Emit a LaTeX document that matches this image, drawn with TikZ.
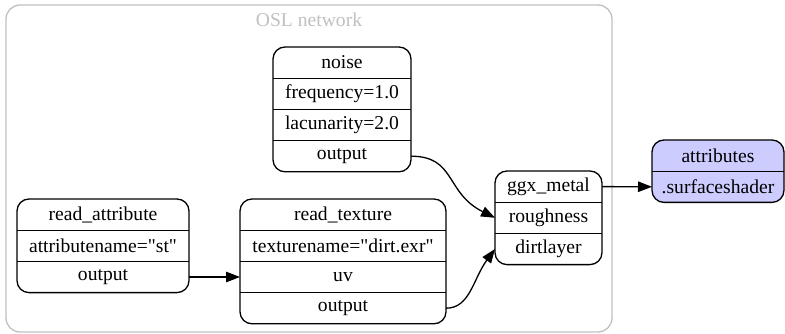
\documentclass[tikz,border=0pt]{standalone}
\usepackage{fontspec}
\setmainfont{Liberation Serif}[Ligatures=TeXOff]
\usetikzlibrary{arrows.meta,positioning,backgrounds}
\definecolor{clustergrey}{HTML}{C0C0C0}
\definecolor{outfill}{HTML}{CCCCFF}
\tikzset{
  port/.style={minimum width=#1, minimum height=31.2pt, inner sep=0pt, outer sep=0pt,
    font=\fontsize{19.6}{22}\selectfont},
  frame/.style={draw, line width=1.3pt, rounded corners=12pt},
  link/.style={line width=1.3pt, -{Triangle[length=14pt,width=10.5pt]}},
}

\begin{document}
\begin{tikzpicture}[x=1pt,y=-1pt]
\useasboundingbox (0,0) rectangle (785,334);

% cluster
\draw[clustergrey, line width=1.3pt, rounded corners=14pt] (6,5) rectangle (612,332);
\node[text=clustergrey, font=\fontsize{19.6}{22}\selectfont, anchor=base] (title) at (309,27) {OSL network};

% noise
\node[port=138pt] (noise) at (342,62.6) {noise};
\node[port=138pt, below=0pt of noise] (noise-freq) {frequency=1.0};
\node[port=138pt, below=0pt of noise-freq] (noise-lac) {lacunarity=2.0};
\node[port=138pt, below=0pt of noise-lac] (noise-out) {output};

% read_attribute
\node[port=172pt] (attr) at (103,214.6) {read\_attribute};
\node[port=172pt, below=0pt of attr] (attr-name) {attributename="st"};
\node[port=172pt, below=0pt of attr-name] (attr-out) {output};

% read_texture
\node[port=206pt] (tex) at (343,214.6) {read\_texture};
\node[port=206pt, below=0pt of tex] (tex-name) {texturename="dirt.exr"};
\node[port=206pt, below=0pt of tex-name] (tex-uv) {uv};
\node[port=206pt, below=0pt of tex-uv] (tex-out) {output};

% ggx_metal
\node[port=107pt] (ggx) at (548.5,186.6) {ggx\_metal};
\node[port=107pt, below=0pt of ggx] (ggx-rough) {roughness};
\node[port=107pt, below=0pt of ggx-rough] (ggx-dirt) {dirtlayer};

% attributes
\node[port=132pt] (attrs) at (718,155.6) {attributes};
\node[port=132pt, below=0pt of attrs] (attrs-shader) {.surfaceshader};

\begin{scope}[on background layer]
\draw[frame, fill=outfill] (attrs.north west) rectangle (attrs-shader.south east);
\end{scope}

\foreach \a/\b in {noise/noise-out,attr/attr-out,tex/tex-out,ggx/ggx-dirt}
  \draw[frame] (\a.north west) rectangle (\b.south east);

\foreach \r in {noise,noise-freq,noise-lac,attr,attr-name,tex,tex-name,tex-uv,ggx,ggx-rough,attrs}
  \draw[line width=1.3pt] (\r.south west) -- (\r.south east);

% links
\draw[link] (attr-out.east) -- (tex-uv.west);
\draw[link] (noise-out.east) .. controls +(45,0) and +(-50,-25) .. (ggx-rough.west);
\draw[link] (tex-out.east) .. controls +(24,0) and +(-22,30) .. (ggx-dirt.west);
\draw[link] (ggx.east) -- (attrs-shader.west);
\end{tikzpicture}
\end{document}
